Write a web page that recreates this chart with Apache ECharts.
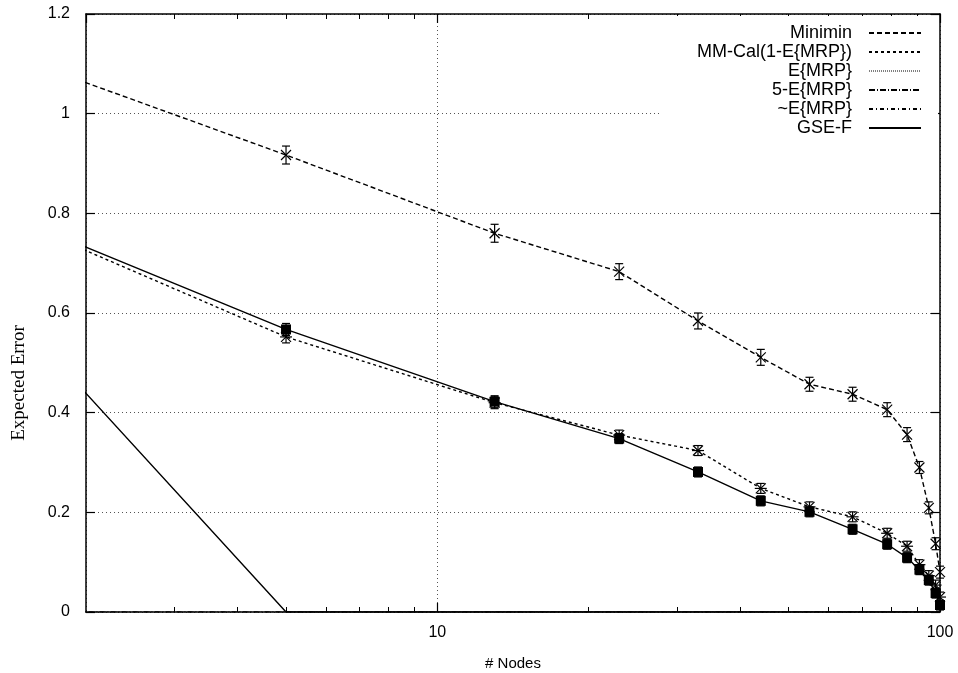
<!DOCTYPE html>
<html>
<head>
<meta charset="utf-8">
<title>Expected Error vs # Nodes</title>
<script src="https://cdn.jsdelivr.net/npm/echarts@6.0.0/dist/echarts.min.js"></script>
<style>
  html, body { margin: 0; padding: 0; background: #fff; }
  #chart { width: 958px; height: 673px; }
</style>
</head>
<body>
<div id="chart"></div>
<script>
// number of nodes (first point lies left of the visible range and is clipped)
var nodes = [1, 5, 13, 23, 33, 44, 55, 67, 78.5, 86, 91, 95, 98, 100];

// expected error per method
var minimin   = [1.172, 0.917, 0.760, 0.683, 0.584, 0.511, 0.457, 0.437, 0.406, 0.356, 0.290, 0.209, 0.137, 0.080];
var mmCal     = [0.856, 0.552, 0.420, 0.355, 0.324, 0.248, 0.211, 0.191, 0.158, 0.132, 0.095, 0.073, 0.054, 0.030];
var eMrp      = [0.771, 0, 0, 0, 0, 0, 0, 0, 0, 0, 0, 0, 0, 0];
var fiveEMrp  = [0, 0, 0, 0, 0, 0, 0, 0, 0, 0, 0, 0, 0, 0];
var tildeEMrp = [0, 0, 0, 0, 0, 0, 0, 0, 0, 0, 0, 0, 0, 0];
var gseF      = [0.857, 0.567, 0.422, 0.348, 0.281, 0.223, 0.201, 0.166, 0.136, 0.109, 0.085, 0.064, 0.038, 0.014];

// error bar half widths
var miniminErr = [0, 0.018, 0.018, 0.016, 0.016, 0.016, 0.014, 0.014, 0.014, 0.014, 0.012, 0.012, 0.012, 0.012];
var mmCalErr   = [0, 0.012, 0.012, 0.010, 0.010, 0.010, 0.010, 0.010, 0.010, 0.010, 0.010, 0.010, 0.010, 0.010];
var gseFErr    = [0, 0.012, 0.012, 0.010, 0.010, 0.010, 0.010, 0.010, 0.010, 0.010, 0.010, 0.010, 0.010, 0.010];

// axis ticks
var yTicks = [0, 0.2, 0.4, 0.6, 0.8, 1, 1.2];
var xLabels = [10, 100];
var xMinorTicks = [3, 4, 5, 6, 7, 8, 9, 20, 30, 40, 50, 60, 70, 80, 90];

var names = ['Minimin', 'MM-Cal(1-E{MRP})', 'E{MRP}', '5-E{MRP}', '~E{MRP}', 'GSE-F'];

function pairs(xs, ys) {
    var out = [];
    for (var i = 0; i < xs.length; i++) out.push([xs[i], ys[i]]);
    return out;
}
function triples(xs, ys, es) {
    var out = [];
    for (var i = 1; i < xs.length; i++) out.push([xs[i], ys[i], es[i]]);
    return out;
}

// error bar + point glyph drawn through the axis scale
function glyph(kind) {
    return function (params, api) {
        var p = api.coord([api.value(0), api.value(1)]);
        var lo = api.coord([api.value(0), api.value(1) - api.value(2)]);
        var hi = api.coord([api.value(0), api.value(1) + api.value(2)]);
        var st = { stroke: '#000', lineWidth: 1.2 };
        var c = 4, r = 5;
        var kids = [
            { type: 'line', shape: { x1: p[0], y1: lo[1], x2: p[0], y2: hi[1] }, style: st },
            { type: 'line', shape: { x1: p[0] - c, y1: lo[1], x2: p[0] + c, y2: lo[1] }, style: st },
            { type: 'line', shape: { x1: p[0] - c, y1: hi[1], x2: p[0] + c, y2: hi[1] }, style: st }
        ];
        if (kind !== 'none') {
            kids.push({ type: 'line', shape: { x1: p[0] - r, y1: p[1] - r, x2: p[0] + r, y2: p[1] + r }, style: st });
            kids.push({ type: 'line', shape: { x1: p[0] - r, y1: p[1] + r, x2: p[0] + r, y2: p[1] - r }, style: st });
        }
        if (kind === 'star') {
            kids.push({ type: 'line', shape: { x1: p[0] - r - 1, y1: p[1], x2: p[0] + r + 1, y2: p[1] }, style: st });
        }
        return { type: 'group', children: kids };
    };
}

var chart = echarts.init(document.getElementById('chart'), null, { renderer: 'canvas' });

var gridLine = { show: true, lineStyle: { color: '#555', type: [1, 3], width: 1 } };
var border = { show: true, lineStyle: { color: '#000', width: 1.5 } };

var option = {
    backgroundColor: '#fff',
    animation: false,
    textStyle: { fontFamily: 'Liberation Sans', color: '#000' },
    grid: { left: 86, right: 18, top: 14, bottom: 61, containLabel: false, outerBoundsMode: 'none' },
    legend: {
        orient: 'vertical',
        align: 'right',
        right: 20,
        top: 16,
        padding: [8, 16, 10, 36],
        itemWidth: 52,
        itemHeight: 14,
        itemGap: 1,
        backgroundColor: '#fff',
        selectedMode: false,
        itemStyle: { opacity: 0 },
        textStyle: { fontFamily: 'Liberation Sans', fontSize: 18, lineHeight: 18, color: '#000', padding: [0, 12, 0, 0] },
        data: [
            { name: names[0] },
            { name: names[1] },
            { name: names[2], lineStyle: { type: [1, 1], width: 1 } },
            { name: names[3] },
            { name: names[4] },
            { name: names[5] }
        ]
    },
    xAxis: [{
        type: 'log', logBase: 10, min: 2, max: 100, position: 'bottom',
        axisLine: border,
        axisTick: { inside: true, length: 9, lineStyle: { color: '#000', width: 1.2 } },
        axisLabel: {
            fontSize: 16, color: '#000', margin: 13, showMinLabel: false,
            formatter: function (v) { return xLabels.indexOf(Math.round(v)) >= 0 ? String(Math.round(v)) : ''; }
        },
        splitLine: gridLine,
        name: '# Nodes', nameLocation: 'middle', nameGap: 44,
        nameTextStyle: { fontSize: 15, color: '#000', fontFamily: 'Liberation Sans' }
    }, {
        type: 'log', logBase: 10, min: 2, max: 100, position: 'bottom',
        axisLine: { show: false },
        axisTick: { inside: true, length: 5, customValues: xMinorTicks, lineStyle: { color: '#000', width: 1 } },
        axisLabel: { show: false }, splitLine: { show: false }
    }, {
        type: 'log', logBase: 10, min: 2, max: 100, position: 'top',
        axisLine: border,
        axisTick: { inside: true, length: 9, lineStyle: { color: '#000', width: 1.2 } },
        axisLabel: { show: false }, splitLine: { show: false }
    }, {
        type: 'log', logBase: 10, min: 2, max: 100, position: 'top',
        axisLine: { show: false },
        axisTick: { inside: true, length: 5, customValues: xMinorTicks, lineStyle: { color: '#000', width: 1 } },
        axisLabel: { show: false }, splitLine: { show: false }
    }],
    yAxis: [{
        type: 'value', min: yTicks[0], max: yTicks[yTicks.length - 1], interval: 0.2, position: 'left',
        axisLine: border,
        axisTick: { inside: true, length: 9, lineStyle: { color: '#000', width: 1.2 } },
        axisLabel: { fontSize: 16, color: '#000', margin: 16 },
        splitLine: gridLine
    }, {
        type: 'value', min: yTicks[0], max: yTicks[yTicks.length - 1], interval: 0.2, position: 'right',
        axisLine: border,
        axisTick: { inside: true, length: 9, lineStyle: { color: '#000', width: 1.2 } },
        axisLabel: { show: false }, splitLine: { show: false }
    }],
    graphic: [{
        type: 'text', x: 19, y: 383, rotation: Math.PI / 2,
        style: { text: 'Expected Error', fontFamily: 'Liberation Serif', fontSize: 19, fill: '#000', align: 'center', verticalAlign: 'middle' }
    }],
    series: [
        { name: names[0], type: 'line', data: pairs(nodes, minimin), symbol: 'none',
          lineStyle: { color: '#000', width: 1.4, type: [5, 3] }, itemStyle: { color: '#000' } },
        { name: names[1], type: 'line', data: pairs(nodes, mmCal), symbol: 'none',
          lineStyle: { color: '#000', width: 1.4, type: [3, 3] }, itemStyle: { color: '#000' } },
        { name: names[2], type: 'line', data: pairs(nodes, eMrp), symbol: 'none',
          lineStyle: { color: '#000', width: 1.4, type: 'solid' }, itemStyle: { color: '#000' } },
        { name: names[3], type: 'line', data: pairs(nodes, fiveEMrp), symbol: 'none',
          lineStyle: { color: '#000', width: 1.2, type: [6, 2, 1, 2] }, itemStyle: { color: '#000' } },
        { name: names[4], type: 'line', data: pairs(nodes, tildeEMrp), symbol: 'none',
          lineStyle: { color: '#000', width: 1.2, type: [4, 3, 1, 3] }, itemStyle: { color: '#000' } },
        { name: names[5], type: 'line', data: pairs(nodes, gseF), symbol: 'rect', symbolSize: 10,
          lineStyle: { color: '#000', width: 1.4, type: 'solid' }, itemStyle: { color: '#000' } },
        { name: 'minimin-pts', type: 'custom', renderItem: glyph('x'), data: triples(nodes, minimin, miniminErr), z: 3 },
        { name: 'mmcal-pts', type: 'custom', renderItem: glyph('star'), data: triples(nodes, mmCal, mmCalErr), z: 3 },
        { name: 'gsef-pts', type: 'custom', renderItem: glyph('none'), data: triples(nodes, gseF, gseFErr), z: 3 }
    ]
};

chart.setOption(option);
</script>
</body>
</html>
